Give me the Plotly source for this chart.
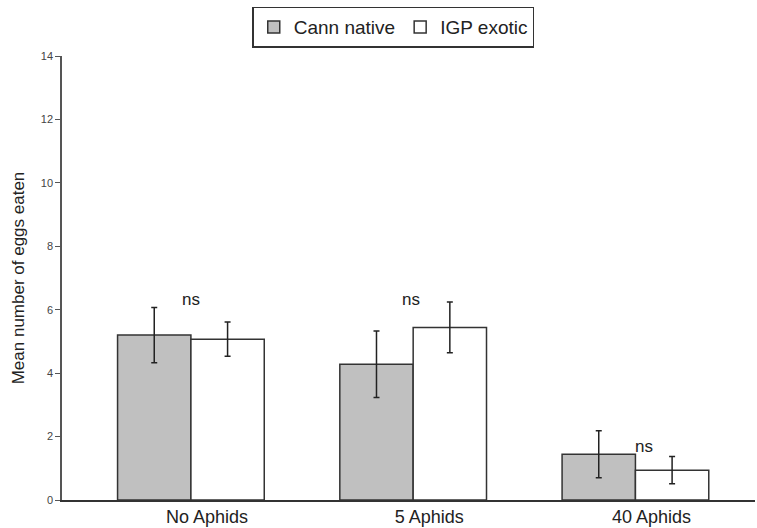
import plotly.graph_objects as go

categories = ["No Aphids", "5 Aphids", "40 Aphids"]
cann_native = [5.2, 4.28, 1.44]
cann_err = [0.87, 1.05, 0.74]
igp_exotic = [5.07, 5.44, 0.94]
igp_err = [0.54, 0.80, 0.43]
ns_labels = ["ns", "ns", "ns"]
ns_y = [6.33, 6.33, 1.68]
ns_xshift = [0, -2, 9]
y_ticks = [0, 2, 4, 6, 8, 10, 12, 14]

FONT = "Liberation Sans, Arial, sans-serif"

fig = go.Figure()
fig.add_trace(go.Bar(
    name="Cann native", x=categories, y=cann_native,
    marker=dict(color="#c0c0c0", line=dict(color="#333333", width=1.5)),
    error_y=dict(type="data", array=cann_err, color="#222222", thickness=1.5, width=3),
))
fig.add_trace(go.Bar(
    name="IGP exotic", x=categories, y=igp_exotic,
    marker=dict(color="#ffffff", line=dict(color="#333333", width=1.5)),
    error_y=dict(type="data", array=igp_err, color="#222222", thickness=1.5, width=3),
))

for c, t, yv, xs in zip(categories, ns_labels, ns_y, ns_xshift):
    fig.add_annotation(x=c, y=yv, text=t, showarrow=False, xshift=xs,
                       font=dict(family=FONT, size=17, color="#222222"))

fig.update_layout(
    width=757, height=528,
    margin=dict(l=62, r=2, t=56, b=28),
    paper_bgcolor="white", plot_bgcolor="white",
    barmode="group", bargap=0.34, bargroupgap=0,
    font=dict(family=FONT, color="#222222"),
    showlegend=True,
    legend=dict(orientation="h", x=0.478, xanchor="center", y=1.065, yanchor="middle",
                bordercolor="#333333", borderwidth=1.5, bgcolor="white",
                font=dict(family=FONT, size=19, color="#222222"),
                itemwidth=30, tracegroupgap=0),
    xaxis=dict(range=[-0.58, 2.538], showline=True, linecolor="#333333", linewidth=1.5,
               ticks="", showgrid=False, zeroline=False, ticklabelshift=16,
               tickfont=dict(family=FONT, size=18, color="#222222")),
    yaxis=dict(range=[0, 14], tickvals=y_ticks, showline=True, linecolor="#555555",
               linewidth=1.5, ticks="outside", ticklen=5, tickcolor="#555555",
               showgrid=False, zeroline=False,
               tickfont=dict(family=FONT, size=11, color="#444444"),
               title=dict(text="Mean number of eggs eaten", standoff=12,
                          font=dict(family=FONT, size=17, color="#222222"))),
)

fig.write_html("out.html")
